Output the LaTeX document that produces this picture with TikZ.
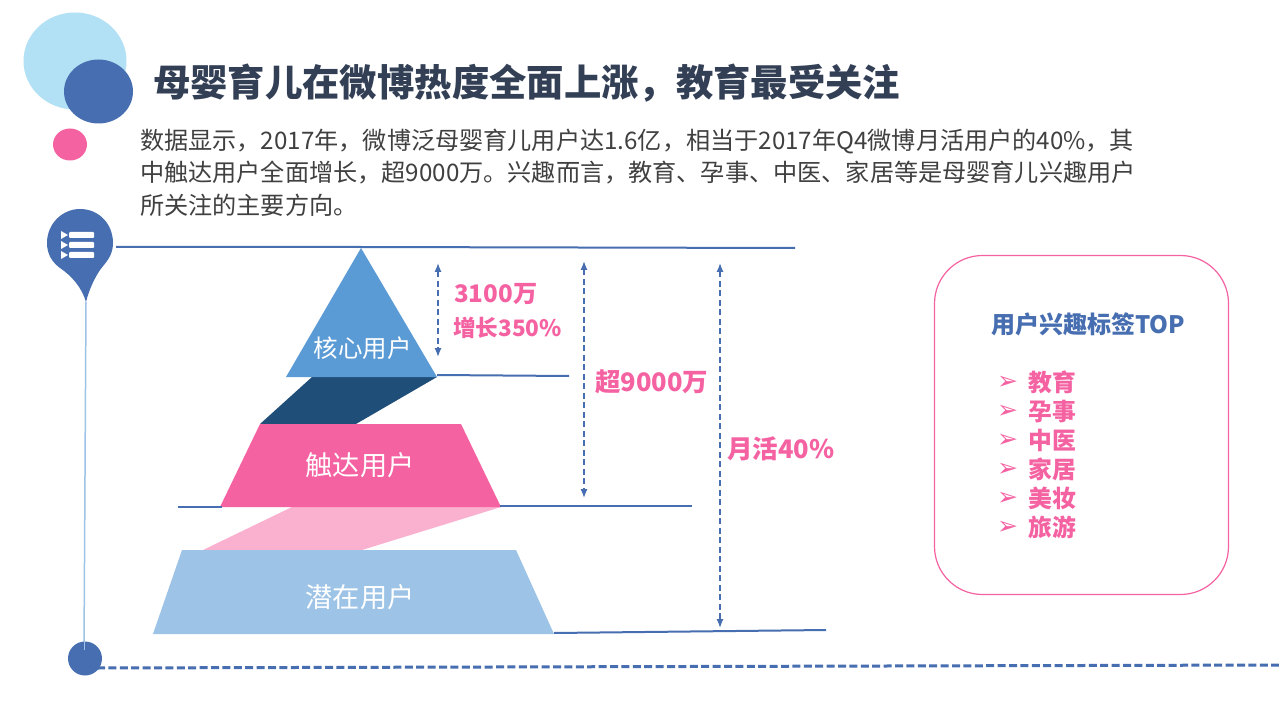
\documentclass[tikz,border=0pt]{standalone}
\usepackage{fontspec}
\setmainfont{Noto Sans CJK SC}
\newfontfamily\symf{DejaVu Sans}
\usetikzlibrary{arrows.meta}
\definecolor{blueA}{HTML}{466EB0}
\definecolor{pinkA}{HTML}{F562A2}
\definecolor{pinkB}{HTML}{FAB0CF}
\definecolor{skyA}{HTML}{B2E0F4}
\definecolor{midblue}{HTML}{5B9BD5}
\definecolor{darkblue}{HTML}{1F4E79}
\definecolor{paleblue}{HTML}{9DC3E6}
\definecolor{titlec}{HTML}{323F55}
\definecolor{bodyc}{HTML}{404040}
\tikzset{
 x=1pt,y=-1pt,
 titletxt/.style={anchor=west,inner sep=0,font=\fontsize{37.35}{38}\selectfont\bfseries,text=titlec},
 bodytxt/.style={anchor=west,inner sep=0,font=\fontsize{24.15}{25}\selectfont,text=bodyc},
 lvl/.style={inner sep=0,font=\fontsize{27.2}{28}\selectfont,text=white},
 pinklab/.style={anchor=west,inner sep=0,font=\fontsize{25.5}{26}\selectfont\bfseries,text=pinkA},
 itemtxt/.style={anchor=west,inner sep=0,font=\fontsize{23.8}{24}\selectfont\bfseries,text=pinkA},
 bullettxt/.style={anchor=center,inner sep=0,font=\symf\fontsize{25}{25}\selectfont,text=pinkA},
 levelrule/.style={draw=blueA,line width=2pt},
 spanarrow/.style={draw=blueA,line width=1.3pt,dash pattern=on 6pt off 3.5pt,{Latex[length=9pt,width=7pt]}-{Latex[length=9pt,width=7pt]}},
}
\begin{document}
\begin{tikzpicture}
\useasboundingbox (0,0) rectangle (1279,719);
\fill[white] (0,0) rectangle (1279,719);
% decorative circles
\fill[skyA] (75,61) ellipse[x radius=51.5,y radius=48.5];
\fill[blueA] (98.5,91.5) ellipse[x radius=34.5,y radius=32];
\fill[pinkA] (70,144.5) ellipse[x radius=17,y radius=16];
% title and text
\node[titletxt] (title) at (153,83) {母婴育儿在微博热度全面上涨，教育最受关注};
\node[bodytxt] (l1) at (140,141) {数据显示，2017年，微博泛母婴育儿用户达1.6亿，相当于2017年Q4微博月活用户的40\%，其};
\node[bodytxt] (l2) at (140,173) {中触达用户全面增长，超9000万。兴趣而言，教育、孕事、中医、家居等是母婴育儿兴趣用户};
\node[bodytxt] (l3) at (140,205) {所关注的主要方向。};
% timeline
\coordinate (pintip) at (86,302);
\coordinate (dot) at (85,658.5);
\coordinate (dotin) at (84,650);
\draw[paleblue,line width=1.5pt] (pintip) -- (dotin);
\fill[blueA] (47,243) .. controls (47,224) and (62,209) .. (80,209) .. controls (99,209) and (113,224) .. (113,243) .. controls (113,256) and (106,262) .. (100,270) .. controls (94,279) and (89,290) .. (86,302) .. controls (82,288) and (72,276) .. (60,268) .. controls (52,262) and (47,254) .. (47,243) -- cycle;
\fill[blueA] (dot) ellipse[x radius=17,y radius=17];
\draw[paleblue,line width=.8pt] (84,640) -- (dotin);
% pin icon
\foreach \yy in {235,245,255}{
 \fill[white,rounded corners=1pt] (69,\yy-3) rectangle (94,\yy+3);
 \fill[white] (61,\yy-4) -- (68,\yy) -- (61,\yy+4) -- cycle;
}
% dashed base line
\coordinate (baseL) at (97,668);
\coordinate (baseR) at (1279,665);
\draw[blueA,line width=3pt,dash pattern=on 8pt off 3.4pt] (baseL) -- (baseR);
% pyramid
\fill[darkblue] (312,377) -- (437,377) -- (356,424) -- (260,424) -- cycle;
\fill[pinkB] (292,507) -- (501,507) -- (362,550) -- (203,550) -- cycle;
\fill[midblue] (361,248) -- (437,377) -- (286,377) -- cycle;
\fill[pinkA] (260,424) -- (461,424) -- (501,507) -- (220,507) -- cycle;
\fill[paleblue] (182,550) -- (516,550) -- (554,634) -- (153,634) -- cycle;
\node[lvl,font=\fontsize{24.5}{25}\selectfont] (core) at (362.5,348) {核心用户};
\node[lvl] (reach) at (360,465) {触达用户};
\node[lvl] (pot) at (360,597) {潜在用户};
% level rules
\coordinate (t1) at (116,247);\coordinate (t2) at (361,247);\coordinate (t3) at (795,248);
\draw[levelrule] (t1) -- (t2) -- (t3);
\coordinate (m1) at (437,375);\coordinate (m2) at (569,376);
\draw[levelrule] (m1) -- (m2);
\coordinate (r1) at (178,507);\coordinate (r2) at (222,507);
\draw[levelrule] (r1) -- (r2);
\coordinate (r3) at (500,506);\coordinate (r4) at (692,506);
\draw[levelrule] (r3) -- (r4);
\coordinate (b1) at (554,633);\coordinate (b2) at (826,630);
\draw[levelrule] (b1) -- (b2);
% spans
\coordinate (a1) at (438,263);\coordinate (a2) at (438,357);
\draw[spanarrow] (a1) -- (a2);
\coordinate (c1) at (584,261);\coordinate (c2) at (584,498);
\draw[spanarrow] (c1) -- (c2);
\coordinate (d1) at (720,263);\coordinate (d2) at (720,628);
\draw[spanarrow] (d1) -- (d2);
\node[pinklab,font=\fontsize{24.2}{25}\selectfont\bfseries] (n1) at (454,294) {3100万};
\node[pinklab,font=\fontsize{22.6}{23}\selectfont\bfseries] (n2) at (453,328) {增长350\%};
\node[pinklab] (n3) at (595,382) {超9000万};
\node[pinklab] (n4) at (727,449) {月活40\%};
% panel
\node[draw=pinkA,line width=1.2pt,rounded corners=48pt,minimum width=294pt,minimum height=339pt,inner sep=0] (panel) at (1081.5,425) {};
\node[inner sep=0,font=\fontsize{24}{24}\selectfont\bfseries,text=blueA] (ptitle) at (1088,324) {用户兴趣标签TOP};
\foreach \tx [count=\i from 0] in {教育,孕事,中医,家居,美妆,旅游}{
 \pgfmathsetmacro{\yy}{382.5+29*\i}
 \node[bullettxt] (bu\i) at (1007.5,\yy) {➢};
 \node[itemtxt] (it\i) at (1028,\yy) {\tx};
}
\end{tikzpicture}
\end{document}
